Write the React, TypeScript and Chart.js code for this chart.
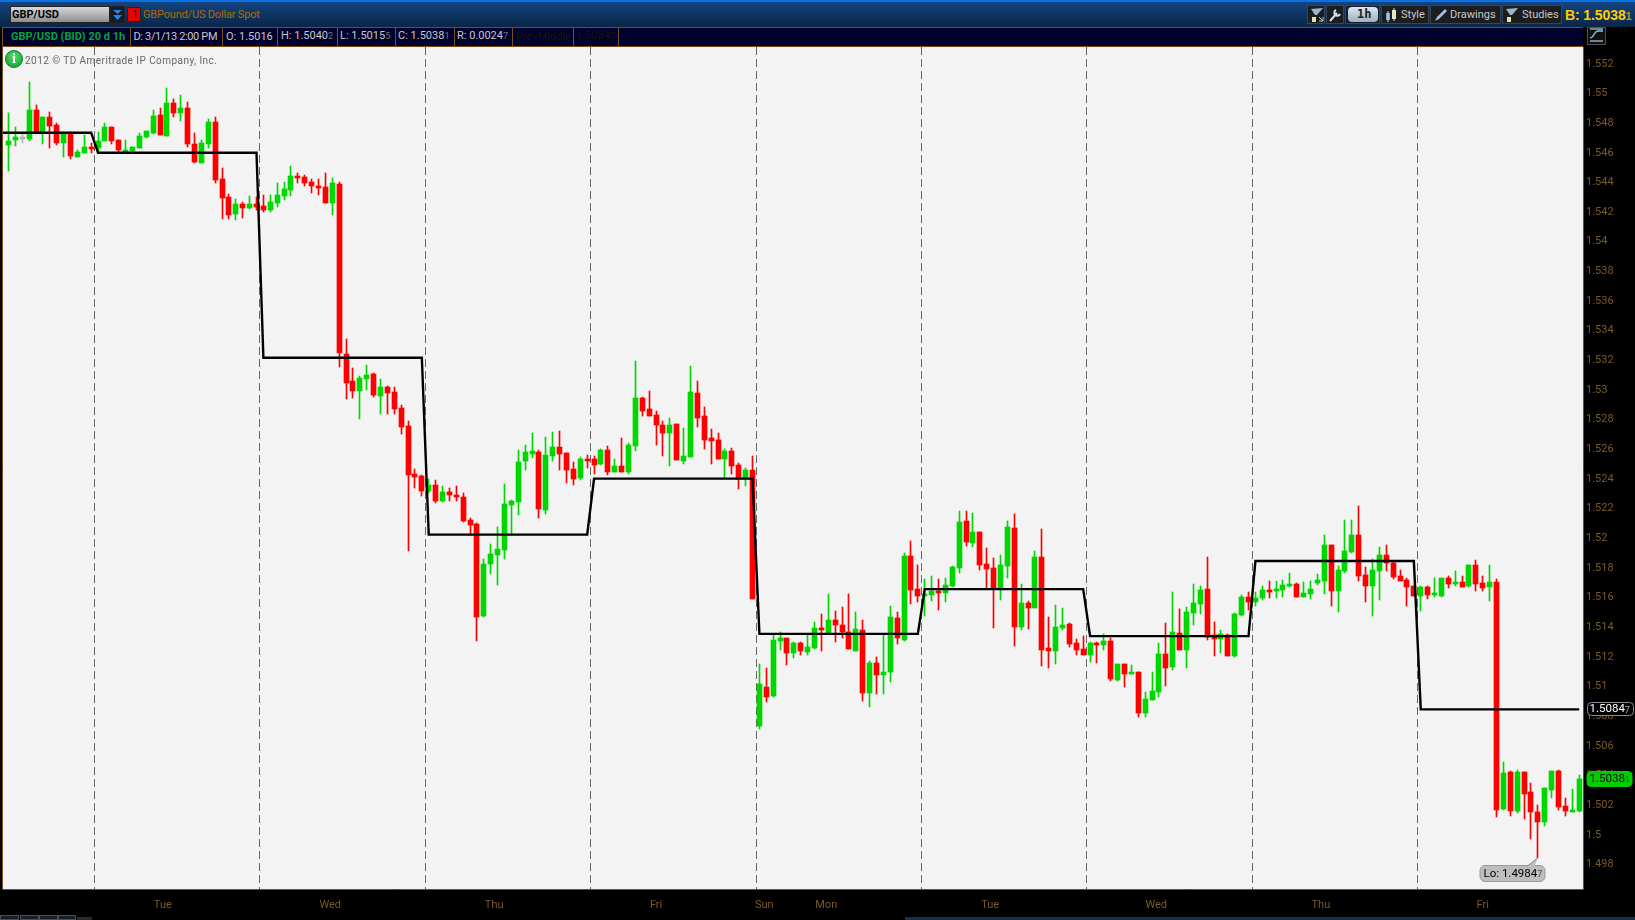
import React, { useEffect, useRef } from "react";
import { Chart, registerables } from "chart.js";

Chart.register(...registerables);

const opens = [
  1.54654,1.54688,1.54708,1.54695,1.54890,1.54735,1.54843,1.54789,1.54668,1.54735,
  1.54573,1.54600,1.54641,1.54634,1.54681,1.54775,1.54688,1.54600,1.54614,1.54634,
  1.54708,1.54735,1.54856,1.54715,1.54937,1.54870,1.54904,1.54661,1.54533,1.54661,
  1.54809,1.54425,1.54304,1.54189,1.54256,1.54229,1.54256,1.54243,1.54216,1.54263,
  1.54310,1.54351,1.54445,1.54438,1.54405,1.54378,1.54371,1.54263,1.54391,1.53245,
  1.53063,1.52996,1.53077,1.53111,1.52962,1.53023,1.52989,1.52881,1.52760,1.52436,
  1.52423,1.52322,1.52362,1.52254,1.52315,1.52295,1.52281,1.52126,1.52099,1.51479,
  1.51830,1.51890,1.51924,1.52227,1.52248,1.52524,1.52571,1.52585,1.52194,1.52558,
  1.52618,1.52578,1.52470,1.52409,1.52538,1.52538,1.52504,1.52598,1.52450,1.52490,
  1.52450,1.52625,1.52949,1.52875,1.52834,1.52767,1.52713,1.52774,1.52524,1.52551,
  1.52982,1.52827,1.52679,1.52666,1.52538,1.52592,1.52497,1.52403,1.52463,1.50737,
  1.51000,1.50939,1.51310,1.51330,1.51229,1.51296,1.51236,1.51263,1.51397,1.51364,
  1.51451,1.51418,1.51371,1.51242,1.51384,1.50959,1.51162,1.51081,1.51101,1.51465,
  1.51317,1.51883,1.51660,1.51613,1.51620,1.51647,1.51633,1.51681,1.51802,1.52119,
  1.51970,1.52045,1.51829,1.51802,1.51667,1.51815,1.52072,1.51404,1.51566,1.51532,
  1.51876,1.51263,1.51242,1.51397,1.51424,1.51296,1.51256,1.51215,1.51296,1.51283,
  1.51310,1.51047,1.51155,1.51087,1.51101,1.50824,1.50912,1.50966,1.51222,1.51135,
  1.51364,1.51249,1.51499,1.51559,1.51660,1.51350,1.51323,1.51350,1.51209,1.51485,
  1.51606,1.51573,1.51600,1.51654,1.51647,1.51654,1.51681,1.51694,1.51606,1.51627,
  1.51701,1.51714,1.51957,1.51647,1.51782,1.51910,1.52024,1.51755,1.51681,1.51782,
  1.51890,1.51836,1.51748,1.51721,1.51681,1.51613,1.51674,1.51620,1.51613,1.51735,
  1.51694,1.51708,1.51681,1.51822,1.51701,1.51674,1.51708,1.50177,1.50427,1.50164,
  1.50427,1.50292,1.50157,1.50090,1.50305,1.50433,1.50197,1.50157,1.5016,
];
const highs = [
  1.54870,1.54775,1.54735,1.55079,1.54924,1.54843,1.54877,1.54802,1.54742,1.54742,
  1.54620,1.54722,1.54668,1.54742,1.54802,1.54775,1.54688,1.54688,1.54641,1.54735,
  1.54749,1.54890,1.54904,1.55038,1.54964,1.54991,1.54944,1.54735,1.54688,1.54829,
  1.54843,1.54499,1.54324,1.54290,1.54270,1.54310,1.54304,1.54317,1.54317,1.54398,
  1.54405,1.54513,1.54465,1.54452,1.54425,1.54425,1.54465,1.54432,1.54405,1.53346,
  1.53151,1.53097,1.53171,1.53117,1.53077,1.53030,1.53023,1.52902,1.52794,1.52470,
  1.52430,1.52403,1.52396,1.52356,1.52342,1.52356,1.52308,1.52140,1.52106,1.51863,
  1.51965,1.52079,1.52369,1.52261,1.52598,1.52632,1.52713,1.52598,1.52686,1.52720,
  1.52726,1.52578,1.52517,1.52551,1.52565,1.52558,1.52605,1.52625,1.52538,1.52679,
  1.52645,1.53198,1.52955,1.52996,1.52861,1.52794,1.52814,1.52774,1.52747,1.53164,
  1.53063,1.52888,1.52740,1.52713,1.52605,1.52612,1.52511,1.52477,1.52558,1.51155,
  1.51128,1.51350,1.51371,1.51330,1.51303,1.51303,1.51350,1.51438,1.51492,1.51627,
  1.51512,1.51539,1.51627,1.51505,1.51451,1.51175,1.51202,1.51350,1.51546,1.51505,
  1.51903,1.51984,1.51822,1.51728,1.51748,1.51728,1.51735,1.51815,1.52186,1.52186,
  1.52173,1.52045,1.51937,1.51869,1.51890,1.52119,1.52166,1.51694,1.51579,1.51917,
  1.52065,1.51472,1.51552,1.51532,1.51431,1.51323,1.51344,1.51303,1.51303,1.51357,
  1.51330,1.51155,1.51155,1.51148,1.51101,1.50966,1.51101,1.51296,1.51431,1.51640,
  1.51526,1.51539,1.51694,1.51681,1.51876,1.51438,1.51384,1.51357,1.51499,1.51620,
  1.51640,1.51640,1.51681,1.51714,1.51714,1.51721,1.51768,1.51701,1.51708,1.51714,
  1.51762,1.52024,1.51957,1.51815,1.52126,1.52126,1.52220,1.51809,1.51863,1.51943,
  1.51957,1.51842,1.51788,1.51735,1.51681,1.51681,1.51681,1.51735,1.51735,1.51748,
  1.51782,1.51748,1.51822,1.51856,1.51748,1.51822,1.51728,1.50494,1.50433,1.50440,
  1.50427,1.50352,1.50204,1.50319,1.50433,1.50440,1.50251,1.50312,1.50402,
];
const lows = [
  1.54479,1.54647,1.54668,1.54681,1.54735,1.54661,1.54634,1.54654,1.54573,1.54560,
  1.54573,1.54600,1.54600,1.54614,1.54681,1.54661,1.54607,1.54600,1.54607,1.54634,
  1.54701,1.54728,1.54722,1.54715,1.54843,1.54816,1.54641,1.54533,1.54533,1.54634,
  1.54398,1.54155,1.54155,1.54149,1.54162,1.54223,1.54216,1.54202,1.54202,1.54236,
  1.54283,1.54310,1.54398,1.54378,1.54331,1.54317,1.54263,1.54182,1.53158,1.52942,
  1.52949,1.52807,1.53003,1.52955,1.52841,1.52841,1.52841,1.52706,1.51917,1.52342,
  1.52288,1.52308,1.52241,1.52248,1.52254,1.52254,1.52113,1.52025,1.51311,1.51472,
  1.51762,1.51688,1.51863,1.52025,1.52160,1.52463,1.52544,1.52140,1.52167,1.52524,
  1.52463,1.52376,1.52362,1.52396,1.52477,1.52436,1.52497,1.52430,1.52450,1.52450,
  1.52436,1.52592,1.52827,1.52827,1.52632,1.52558,1.52490,1.52531,1.52504,1.52551,
  1.52753,1.52605,1.52504,1.52538,1.52403,1.52436,1.52335,1.52356,1.51594,1.50717,
  1.50899,1.50932,1.51249,1.51148,1.51195,1.51215,1.51215,1.51256,1.51242,1.51364,
  1.51303,1.51330,1.51256,1.51242,1.50905,1.50865,1.50953,1.50953,1.51033,1.51290,
  1.51310,1.51559,1.51573,1.51478,1.51579,1.51519,1.51573,1.51674,1.51768,1.51950,
  1.51943,1.51788,1.51660,1.51397,1.51586,1.51735,1.51276,1.51384,1.51391,1.51532,
  1.51141,1.51128,1.51155,1.51384,1.51269,1.51215,1.51215,1.51168,1.51162,1.51249,
  1.51040,1.51040,1.51000,1.51087,1.50797,1.50797,1.50912,1.50932,1.51006,1.51114,
  1.51249,1.51128,1.51418,1.51492,1.51317,1.51209,1.51229,1.51209,1.51202,1.51478,
  1.51519,1.51546,1.51586,1.51600,1.51600,1.51606,1.51674,1.51606,1.51606,1.51593,
  1.51687,1.51627,1.51546,1.51505,1.51768,1.51903,1.51714,1.51573,1.51478,1.51586,
  1.51782,1.51728,1.51714,1.51546,1.51613,1.51512,1.51593,1.51606,1.51606,1.51667,
  1.51681,1.51674,1.51674,1.51647,1.51647,1.51579,1.50123,1.50170,1.50130,1.50150,
  1.50110,1.49975,1.49847,1.50063,1.50251,1.50170,1.50130,1.50157,1.50155,
];
const closes = [
  1.54681,1.54708,1.54695,1.54890,1.54735,1.54843,1.54782,1.54668,1.54735,1.54580,
  1.54607,1.54641,1.54627,1.54681,1.54775,1.54681,1.54620,1.54620,1.54641,1.54715,
  1.54744,1.54850,1.54722,1.54937,1.54870,1.54904,1.54661,1.54540,1.54668,1.54809,
  1.54418,1.54297,1.54182,1.54256,1.54229,1.54256,1.54236,1.54216,1.54270,1.54317,
  1.54358,1.54445,1.54432,1.54398,1.54378,1.54364,1.54263,1.54398,1.53252,1.53050,
  1.52996,1.53084,1.53104,1.52969,1.53023,1.52982,1.52875,1.52753,1.52430,1.52416,
  1.52322,1.52362,1.52254,1.52315,1.52295,1.52281,1.52120,1.52093,1.51472,1.51830,
  1.51897,1.51931,1.52234,1.52254,1.52517,1.52585,1.52592,1.52200,1.52565,1.52618,
  1.52571,1.52463,1.52403,1.52538,1.52524,1.52497,1.52598,1.52450,1.52490,1.52450,
  1.52632,1.52949,1.52861,1.52827,1.52767,1.52713,1.52767,1.52531,1.52558,1.52989,
  1.52814,1.52666,1.52659,1.52538,1.52592,1.52490,1.52403,1.52463,1.51594,1.51020,
  1.50932,1.51317,1.51330,1.51229,1.51296,1.51242,1.51269,1.51397,1.51384,1.51451,
  1.51418,1.51371,1.51256,1.51391,1.50959,1.51162,1.51081,1.51101,1.51472,1.51330,
  1.51883,1.51654,1.51613,1.51627,1.51647,1.51633,1.51687,1.51809,1.52112,1.51977,
  1.52045,1.51822,1.51795,1.51667,1.51822,1.52078,1.51404,1.51566,1.51532,1.51876,
  1.51249,1.51242,1.51404,1.51418,1.51290,1.51249,1.51215,1.51296,1.51283,1.51310,
  1.51054,1.51155,1.51087,1.51101,1.50824,1.50919,1.50973,1.51222,1.51128,1.51371,
  1.51249,1.51505,1.51566,1.51654,1.51337,1.51323,1.51357,1.51209,1.51492,1.51606,
  1.51573,1.51600,1.51654,1.51640,1.51660,1.51687,1.51694,1.51606,1.51633,1.51660,
  1.51721,1.51957,1.51647,1.51788,1.51917,1.52024,1.51748,1.51681,1.51788,1.51890,
  1.51836,1.51741,1.51714,1.51674,1.51613,1.51674,1.51620,1.51633,1.51735,1.51694,
  1.51708,1.51674,1.51822,1.51694,1.51667,1.51708,1.50170,1.50420,1.50164,1.50427,
  1.50278,1.50157,1.50090,1.50319,1.50433,1.50191,1.50164,1.50170,1.50381,
];
const neutralCandles = [2];

const sessionStarts = [0, 13, 37, 61, 85, 109, 133, 157, 181, 205];
const middleLevels = [1.54735, 1.546, 1.53218, 1.52025, 1.52403, 1.51356, 1.51658, 1.51341, 1.51847, 1.50847];
const sessionBreaks = [12.5, 36.5, 60.5, 84.5, 108.6, 132.5, 156.5, 180.6, 204.5];
const dayNames = ["Tue", "Wed", "Thu", "Fri", "Sun", "Mon", "Tue", "Wed", "Thu", "Fri"];
const dayPositions = [22.4, 46.7, 70.5, 94, 109.7, 118.7, 142.5, 166.6, 190.5, 214];
const priceTicks = [
  1.498, 1.5, 1.502, 1.504, 1.506, 1.508, 1.51, 1.512, 1.514, 1.516, 1.518, 1.52, 1.522, 1.524,
  1.526, 1.528, 1.53, 1.532, 1.534, 1.536, 1.538, 1.54, 1.542, 1.544, 1.546, 1.548, 1.55, 1.552,
];
const yMin = 1.49636;
const yMax = 1.55313;
const xMin = -0.798;
const xMax = 228.55;
const lastPrice = 1.50381;
const prevMiddle = 1.50847;
const lowPrice = 1.49847;
const lowIndex = 222;

const UP = "#00d600";
const DOWN = "#ff0000";
const NEUTRAL = "#b4b4b4";
const BROWN = "#7a4c17";
const AXIS_TEXT = "#7b5a26";
const FONT = "Roboto, 'Liberation Sans', sans-serif";

const candleColors = opens.map((o, i) =>
  neutralCandles.includes(i) ? NEUTRAL : closes[i] >= o ? UP : DOWN
);
const middleLine: { x: number; y: number }[] = [{ x: -2, y: middleLevels[0] }];
opens.forEach((_, i) => {
  let k = 0;
  sessionStarts.forEach((s, j) => {
    if (i >= s) k = j;
  });
  middleLine.push({ x: i, y: middleLevels[k] });
});

function tag(ctx: any, x: number, y: number, w: number, h: number, r: number, fill: string, stroke: string) {
  ctx.beginPath();
  ctx.roundRect(x, y, w, h, r);
  ctx.fillStyle = fill;
  ctx.fill();
  ctx.lineWidth = 1;
  ctx.strokeStyle = stroke;
  ctx.stroke();
}

function tagText(ctx: any, x: number, y: number, main: string, last: string, color: string, dim: string) {
  ctx.font = `11.5px ${FONT}`;
  ctx.textAlign = "left";
  ctx.textBaseline = "middle";
  ctx.fillStyle = color;
  ctx.fillText(main, x, y);
  const w = ctx.measureText(main).width;
  ctx.font = `9px ${FONT}`;
  ctx.fillStyle = dim;
  ctx.fillText(last, x + w, y + 1);
}

const chromePlugin = {
  id: "chrome",
  beforeDraw(chart: any) {
    const { ctx, chartArea: a } = chart;
    ctx.save();
    ctx.fillStyle = "#f3f3f3";
    ctx.fillRect(a.left, a.top, a.right - a.left, a.bottom - a.top);
    ctx.restore();
  },
  beforeDatasetsDraw(chart: any) {
    chart.data.datasets.forEach((d: any, idx: number) => {
      if (d.type === "line") return;
      chart.getDatasetMeta(idx).data.forEach((el: any) => {
        el.x = Math.floor(el.x) + 0.5;
        el.y = Math.round(el.y);
        el.base = Math.round(el.base);
      });
    });
  },
  afterDraw(chart: any) {
    const { ctx, chartArea: a, scales } = chart;
    const y = scales.y;
    const x = scales.x;
    ctx.save();
    ctx.strokeStyle = BROWN;
    ctx.lineWidth = 1;
    ctx.beginPath();
    ctx.moveTo(a.left - 0.5, a.top);
    ctx.lineTo(a.left - 0.5, a.bottom + 0.5);
    ctx.lineTo(a.right + 0.5, a.bottom + 0.5);
    ctx.lineTo(a.right + 0.5, a.top);
    ctx.stroke();

    const my = Math.round(y.getPixelForValue(prevMiddle));
    tag(ctx, 1587.5, my - 6.5, 46, 13, 4, "#000", "#8a8a8a");
    tagText(ctx, 1589.5, my + 0.5, "1.5084", "7", "#fff", "#aaa");

    const ly = Math.round(y.getPixelForValue(lastPrice));
    tag(ctx, 1587, ly - 7.5, 45, 15, 4, "#00cc00", "#00cc00");
    tagText(ctx, 1589.5, ly + 0.5, "1.5038", "1", "#000", "#055");

    const lx = Math.floor(x.getPixelForValue(lowIndex)) + 0.5;
    const lowY = Math.round(y.getPixelForValue(lowPrice));
    tag(ctx, lx - 57.5, lowY + 7.5, 65, 16, 5, "#bdbdbd", "#9a9a9a");
    ctx.beginPath();
    ctx.moveTo(lx, lowY);
    ctx.lineTo(lx - 10, lowY + 8);
    ctx.lineTo(lx - 3, lowY + 8);
    ctx.closePath();
    ctx.fillStyle = "#bdbdbd";
    ctx.fill();
    ctx.strokeStyle = "#8c8c8c";
    ctx.beginPath();
    ctx.moveTo(lx, lowY);
    ctx.lineTo(lx - 10, lowY + 8);
    ctx.stroke();
    tagText(ctx, lx - 54, lowY + 16, "Lo: 1.4984", "7", "#000", "#444");
    ctx.restore();
  },
};

const abs = (left: number, top: number, width: number, height: number, extra: any = {}): any => ({
  position: "absolute",
  left,
  top,
  width,
  height,
  boxSizing: "border-box",
  ...extra,
});
const label = (left: number, top: number, color: string, size: number, extra: any = {}): any => ({
  position: "absolute",
  left,
  top,
  color,
  fontSize: size,
  fontFamily: FONT,
  lineHeight: "14px",
  whiteSpace: "nowrap",
  ...extra,
});

const statusDividers = [130, 222, 277, 337, 395, 454, 512, 573, 618];

function Pair({ a, b, left, color, dim }: any) {
  return (
    <div style={label(left, 29, color, 11)}>
      {a}
      <span style={{ fontSize: 9, color: dim }}>{b}</span>
    </div>
  );
}

function ToolBtn({ left, width, text, textLeft, icon }: any) {
  return (
    <div style={abs(left, 5, width, 19, { background: "#1c1d1f", border: "1px solid #34445a" })}>
      {icon}
      {text ? (
        <div style={label(textLeft, 2, "#c8c8c8", 11)}>{text}</div>
      ) : null}
    </div>
  );
}

const Wedge = ({ color }: any) => (
  <svg width="16" height="16" style={{ position: "absolute", left: 1, top: 1 }}>
    <path d="M2 2 L14 1 L8 8 L6 8 Z" fill="#9fb4c6" />
    <rect x="3" y="10" width="4" height="5" fill="#e8e0b0" />
    <path d="M10 10 l4 4 M14 10 l0 4 l-4 0" stroke={color} fill="none" />
  </svg>
);

export default function App() {
  const ref = useRef<HTMLCanvasElement | null>(null);
  useEffect(() => {
    const chart = new Chart(ref.current as any, {
      type: "bar",
      data: {
        datasets: [
          {
            type: "line",
            data: middleLine,
            borderColor: "#000",
            borderWidth: 2.4,
            pointRadius: 0,
            tension: 0,
            order: 0,
          },
          {
            type: "bar",
            data: opens.map((o, i) => ({ x: i, y: [o, closes[i]] })),
            backgroundColor: candleColors,
            barThickness: 5,
            grouped: false,
            borderWidth: 0,
            minBarLength: 2,
            order: 1,
          },
          {
            type: "bar",
            data: lows.map((l, i) => ({ x: i, y: [l, highs[i]] })),
            backgroundColor: candleColors,
            barThickness: 1,
            grouped: false,
            borderWidth: 0,
            order: 2,
          },
        ] as any,
      },
      options: {
        responsive: false,
        animation: false,
        devicePixelRatio: 1,
        layout: { padding: { left: 3, top: 47, right: 0, bottom: 0 } },
        plugins: { legend: { display: false }, tooltip: { enabled: false } },
        scales: {
          x: {
            type: "linear",
            min: xMin,
            max: xMax,
            offset: false,
            afterBuildTicks: (s: any) => {
              s.ticks = [...sessionBreaks, ...dayPositions]
                .sort((p, q) => p - q)
                .map((value) => ({ value }));
            },
            afterFit: (s: any) => {
              s.height = 31;
            },
            grid: {
              offset: false,
              drawTicks: false,
              color: (c: any) => (c.tick && sessionBreaks.includes(c.tick.value) ? "#666666" : "rgba(0,0,0,0)"),
            },
            border: { display: false, dash: [8, 4] },
            ticks: {
              autoSkip: false,
              maxRotation: 0,
              padding: 10,
              color: AXIS_TEXT,
              font: { family: FONT, size: 11 },
              callback: (v: any) => {
                const k = dayPositions.indexOf(v);
                return k >= 0 ? dayNames[k] : "";
              },
            },
          },
          y: {
            type: "linear",
            position: "right",
            min: yMin,
            max: yMax,
            afterBuildTicks: (s: any) => {
              s.ticks = priceTicks.map((value) => ({ value }));
            },
            afterFit: (s: any) => {
              s.width = 52;
            },
            grid: { display: false, drawTicks: false },
            border: { display: false },
            ticks: {
              padding: 3,
              color: AXIS_TEXT,
              font: { family: FONT, size: 11 },
              callback: (v: any) => String(Number(Number(v).toFixed(3))),
            },
          },
        },
      } as any,
      plugins: [chromePlugin],
    });
    return () => chart.destroy();
  }, []);

  return (
    <div style={{ position: "fixed", left: 0, top: 0, width: 1635, height: 920, background: "#000", overflow: "hidden" }}>
      <canvas ref={ref} width={1635} height={920} style={{ position: "absolute", left: 0, top: 0, display: "block" }} />

      {/* header */}
      <div style={abs(0, 0, 1635, 27, { background: "linear-gradient(#134784, #0a2547)" })} />
      <div style={abs(0, 0, 1635, 2, { background: "#0a70e6" })} />
      <div style={abs(10, 6, 100, 17, { background: "linear-gradient(#d8d8d8, #8e8e8e)", border: "1px solid #222" })}>
        <div style={label(1, 1, "#000", 11, { fontWeight: 700 })}>GBP/USD</div>
      </div>
      <div style={abs(110, 6, 15, 17, { background: "#111c2c", border: "1px solid #222" })}>
        <svg width="13" height="15">
          <path d="M2 3 H11 L6.5 7 Z M2 8 H11 L6.5 13 Z" fill="#2f86d8" />
        </svg>
      </div>
      <div style={abs(127, 7, 14, 15, { background: "#ee0000", border: "1px solid #222" })}>
        <div style={label(4, 0, "#000", 11)}>1</div>
      </div>
      <div style={label(143, 8, "#b06a00", 11, { letterSpacing: -0.18 })}>GBPound/US Dollar Spot</div>

      <ToolBtn left={1307} width={18} icon={<Wedge color="#bcd" />} />
      <ToolBtn
        left={1326}
        width={18}
        icon={
          <svg width="16" height="16" style={{ position: "absolute", left: 0, top: 1 }}>
            <path d="M3 14 L10 6 M9 3 a3 3 0 1 0 4 4" stroke="#cfe0ee" strokeWidth="2" fill="none" />
          </svg>
        }
      />
      <ToolBtn
        left={1345}
        width={35}
        icon={
          <div style={abs(2, 1, 30, 15, { background: "linear-gradient(#dbe6f0, #9cb0c4)", borderRadius: 4 })}>
            <div style={label(9, 0, "#222", 12, { fontWeight: 700, fontFamily: "'DejaVu Sans Mono', monospace" })}>1h</div>
          </div>
        }
      />
      <ToolBtn
        left={1381}
        width={48}
        text="Style"
        textLeft={19}
        icon={
          <svg width="16" height="16" style={{ position: "absolute", left: 2, top: 1 }}>
            <rect x="2" y="6" width="4" height="7" fill="#6fa6d8" />
            <rect x="8" y="3" width="4" height="9" fill="#e8e8c0" />
            <path d="M4 4 V15 M10 1 V14" stroke="#ddd" />
          </svg>
        }
      />
      <ToolBtn
        left={1430}
        width={71}
        text="Drawings"
        textLeft={19}
        icon={
          <svg width="16" height="16" style={{ position: "absolute", left: 2, top: 1 }}>
            <path d="M2 14 L4 10 L12 2 L14 4 L6 12 Z" fill="#9fc0de" />
          </svg>
        }
      />
      <ToolBtn left={1502} width={60} text="Studies" textLeft={19} icon={<Wedge color="#1c1d1f" />} />
      <div style={label(1565, 8, "#ffcc00", 14, { fontWeight: 700, fontFamily: "'Liberation Sans', sans-serif", letterSpacing: -0.1 })}>
        B: 1.5038<span style={{ fontSize: 11, color: "#a89a3a" }}>1</span>
      </div>

      {/* status bar */}
      <div style={abs(2, 27, 1581, 20, { background: "#00002c", borderTop: `1px solid ${BROWN}`, borderBottom: `1px solid ${BROWN}`, borderLeft: `1px solid ${BROWN}` })} />
      {statusDividers.map((x) => (
        <div key={x} style={abs(x, 27, 1, 20, { background: BROWN })} />
      ))}
      <div style={label(11, 29.5, "#00a63a", 11, { fontWeight: 700 })}>GBP/USD (BID) 20 d 1h</div>
      <div style={label(133.5, 29.5, "#c8c8c8", 11, { letterSpacing: -0.35 })}>D: 3/1/13 2:00 PM</div>
      <div style={label(226, 29.5, "#c8c8c8", 11)}>O: 1.5016</div>
      <Pair left={281} a="H: 1.5040" b="2" color="#c8c8c8" dim="#777" />
      <Pair left={340} a="L: 1.5015" b="5" color="#c8c8c8" dim="#777" />
      <Pair left={398} a="C: 1.5038" b="1" color="#c8c8c8" dim="#777" />
      <Pair left={457} a="R: 0.0024" b="7" color="#c8c8c8" dim="#777" />
      <div style={label(516, 29.5, "#15150f", 11)}>PrevMiddle</div>
      <Pair left={576} a="1.5084" b="7" color="#15150f" dim="#15150f" />

      <div style={abs(1587, 27, 19, 18, { background: "#111", border: "1px solid #44505c" })}>
        <svg width="17" height="16">
          <path d="M2 10 C6 10 6 3 10 3 H15" stroke="#7cc4f0" fill="none" strokeWidth="1.4" />
          <path d="M2 13 H15" stroke="#eee" />
          <path d="M2 1 H15" stroke="#eee" />
        </svg>
      </div>

      {/* info icon and copyright */}
      <div
        style={abs(5, 50, 18, 18, {
          borderRadius: 9,
          background: "radial-gradient(circle at 50% 35%, #55dd66, #0a9a2a)",
          border: "1px solid #0a7a20",
          color: "#fff",
          fontSize: 14,
          fontWeight: 700,
          fontFamily: "'Liberation Serif', serif",
          textAlign: "center",
          lineHeight: "16px",
        })}
      >
        i
      </div>
      <div style={label(25, 54, "#666", 10, { letterSpacing: 0.45 })}>2012 © TD Ameritrade IP Company, Inc.</div>

      {/* footer slivers */}
      <div style={abs(905, 917, 730, 3, { background: "#16304e" })} />
      <div style={abs(0, 915, 19, 5, { background: "#1a1e24", border: "1px solid #44505c" })} />
      <div style={abs(20, 915, 19, 5, { background: "#1a1e24", border: "1px solid #44505c" })} />
      <div style={abs(39, 915, 19, 5, { background: "#1a1e24", border: "1px solid #44505c" })} />
      <div style={abs(58, 915, 18, 5, { background: "#1a1e24", border: "1px solid #44505c" })} />
      <div style={abs(77, 917, 15, 3, { background: "#2a2a2a" })} />
    </div>
  );
}
